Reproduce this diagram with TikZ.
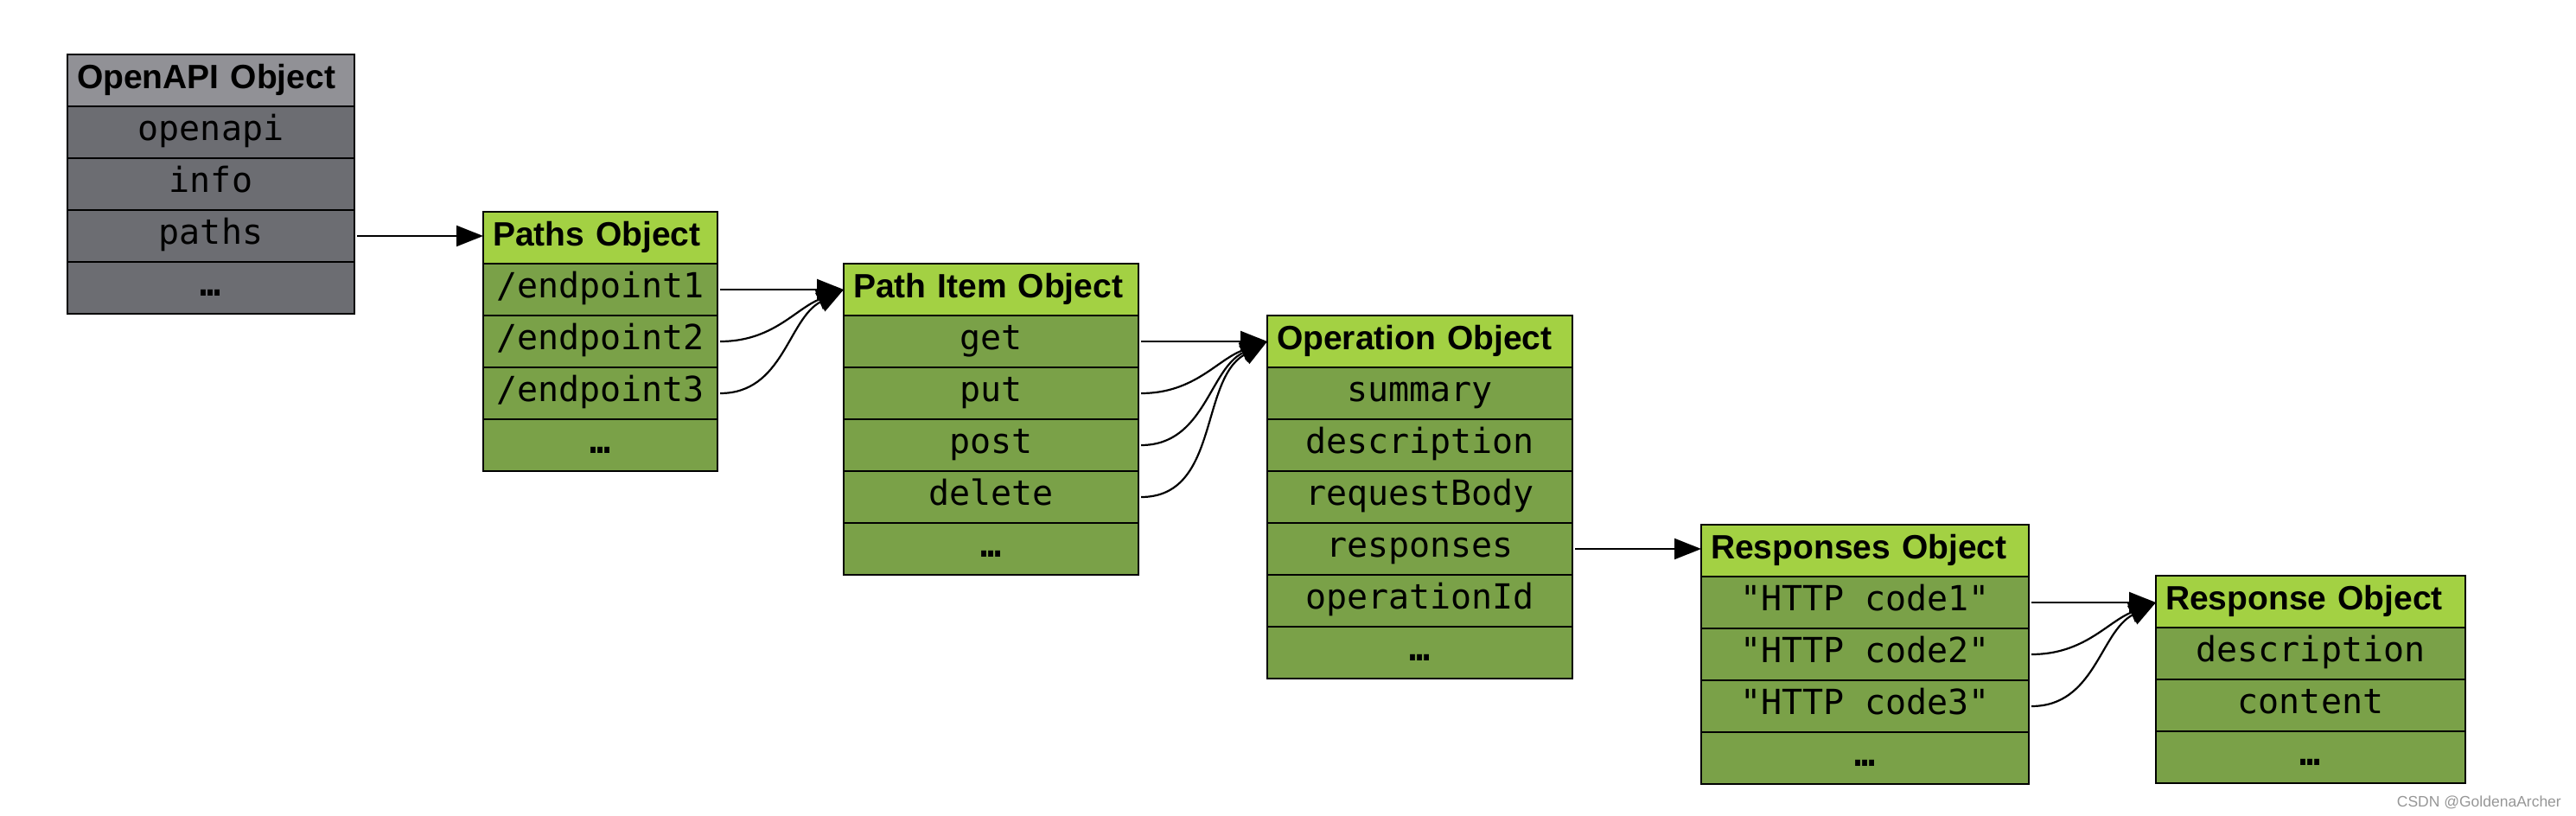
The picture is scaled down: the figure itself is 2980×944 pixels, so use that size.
\documentclass[tikz,border=0pt]{standalone}
\usepackage{fontspec}
\setmainfont{Liberation Sans}
\newfontfamily\monof{DejaVu Sans Mono}
\usetikzlibrary{arrows.meta}
\definecolor{hdrgreen}{RGB}{163,209,67}
\definecolor{rowgreen}{RGB}{122,161,72}
\definecolor{hdrgray}{RGB}{145,145,150}
\definecolor{rowgray}{RGB}{108,109,114}
\definecolor{wmgray}{RGB}{150,150,150}
\begin{document}
\begin{tikzpicture}[x=1pt,y=-1pt,
  cell/.style={draw=black, line width=2.5pt, minimum height=60pt, inner sep=0pt, outer sep=0pt, anchor=north west,
    text height=29pt, text depth=10pt},
  hdr/.style 2 args={cell, fill=hdrgreen, minimum width=#1, text width=#2, inner xsep=11pt, align=left,
    font=\fontsize{39}{44}\selectfont\bfseries},
  ghdr/.style 2 args={hdr={#1}{#2}, fill=hdrgray},
  row/.style={cell, fill=rowgreen, minimum width=#1, font=\monof\fontsize{40}{44}\selectfont},
  grow/.style={row=#1, fill=rowgray},
  arr/.style={line width=2.2pt, -{Triangle[length=31pt,width=24pt]}},
]
\useasboundingbox (0,0) rectangle (2980,944);

% OpenAPI Object
\node[ghdr={332pt}{310pt}] (A0) at (78,63) {OpenAPI Object};
\node[grow=332pt] (A1) at (A0.south west) {openapi};
\node[grow=332pt] (A2) at (A1.south west) {info};
\node[grow=332pt] (A3) at (A2.south west) {paths};
\node[grow=332pt] (A4) at (A3.south west) {\bfseries …};

% Paths Object
\node[hdr={271pt}{249pt}] (B0) at (559,245) {Paths Object};
\node[row=271pt] (B1) at (B0.south west) {/endpoint1};
\node[row=271pt] (B2) at (B1.south west) {/endpoint2};
\node[row=271pt] (B3) at (B2.south west) {/endpoint3};
\node[row=271pt] (B4) at (B3.south west) {\bfseries …};

% Path Item Object
\node[hdr={341pt}{319pt}] (C0) at (976,305) {Path Item Object};
\node[row=341pt] (C1) at (C0.south west) {get};
\node[row=341pt] (C2) at (C1.south west) {put};
\node[row=341pt] (C3) at (C2.south west) {post};
\node[row=341pt] (C4) at (C3.south west) {delete};
\node[row=341pt] (C5) at (C4.south west) {\bfseries …};

% Operation Object
\node[hdr={353pt}{331pt}] (D0) at (1466,365) {Operation Object};
\node[row=353pt] (D1) at (D0.south west) {summary};
\node[row=353pt] (D2) at (D1.south west) {description};
\node[row=353pt] (D3) at (D2.south west) {requestBody};
\node[row=353pt] (D4) at (D3.south west) {responses};
\node[row=353pt] (D5) at (D4.south west) {operationId};
\node[row=353pt] (D6) at (D5.south west) {\bfseries …};

% Responses Object
\node[hdr={379pt}{357pt}] (E0) at (1968,607) {Responses Object};
\node[row=379pt] (E1) at (E0.south west) {"HTTP code1"};
\node[row=379pt] (E2) at (E1.south west) {"HTTP code2"};
\node[row=379pt] (E3) at (E2.south west) {"HTTP code3"};
\node[row=379pt] (E4) at (E3.south west) {\bfseries …};

% Response Object
\node[hdr={358pt}{336pt}] (F0) at (2494,666) {Response Object};
\node[row=358pt] (F1) at (F0.south west) {description};
\node[row=358pt] (F2) at (F1.south west) {content};
\node[row=358pt] (F3) at (F2.south west) {\bfseries …};

% connectors
\draw[arr] ([xshift=3pt]A3.east) -- (A3.east -| B0.west);

\draw[arr] ([xshift=3pt]B1.east) -- (B1.east -| C0.west);
\draw[arr] ([xshift=3pt]B2.east) to[out=0,in=202] (B1.east -| C0.west);
\draw[arr] ([xshift=3pt]B3.east) to[out=0,in=208] (B1.east -| C0.west);

\draw[arr] ([xshift=3pt]C1.east) -- (C1.east -| D0.west);
\draw[arr] ([xshift=3pt]C2.east) to[out=0,in=200] (C1.east -| D0.west);
\draw[arr] ([xshift=3pt]C3.east) to[out=0,in=205] (C1.east -| D0.west);
\draw[arr] ([xshift=3pt]C4.east) to[out=0,in=210] (C1.east -| D0.west);

\draw[arr] ([xshift=3pt]D4.east) -- (D4.east -| E0.west);

\draw[arr] ([xshift=3pt]E1.east) -- (E1.east -| F0.west);
\draw[arr] ([xshift=3pt]E2.east) to[out=0,in=202] (E1.east -| F0.west);
\draw[arr] ([xshift=3pt]E3.east) to[out=0,in=208] (E1.east -| F0.west);

\node[anchor=base east, inner sep=0pt, text=wmgray, font=\fontsize{17.5}{20}\selectfont] (wm) at (2963,933) {CSDN @GoldenaArcher};
\end{tikzpicture}
\end{document}
